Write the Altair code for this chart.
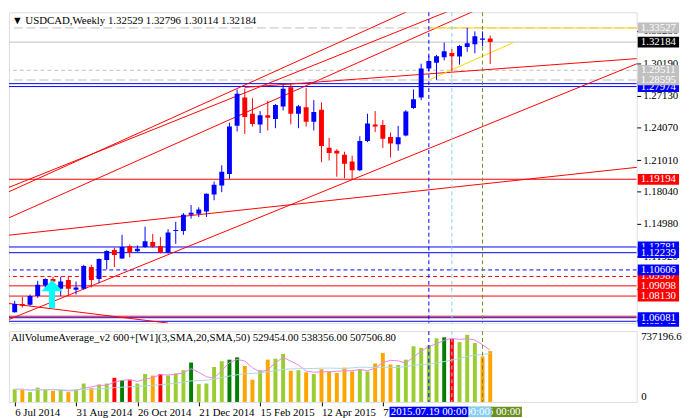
import altair as alt
import pandas as pd

# ---------------- data ----------------
week_start = "2014-07-06"
n_weeks = 63
opens = [1.0659, 1.0737, 1.0730, 1.0813, 1.0914, 1.0975, 1.0883, 1.0966, 1.0874, 1.0883,
         1.1088, 1.0975, 1.1155, 1.1250, 1.1170, 1.1287, 1.1237, 1.1278, 1.1324, 1.1287,
         1.1226, 1.1430, 1.1430, 1.1583, 1.1592, 1.1614, 1.1776, 1.1861, 1.1969, 1.2427,
         1.2693, 1.2540, 1.2439, 1.2525, 1.2489, 1.2608, 1.2792, 1.2540, 1.2602, 1.2464,
         1.2577, 1.2219, 1.2189, 1.2152, 1.2088, 1.2005, 1.2281, 1.2439, 1.2434, 1.2320,
         1.2250, 1.2333, 1.2595, 1.2693, 1.2969, 1.3024, 1.3076, 1.3115, 1.3081, 1.3173,
         1.3198, 1.3240, 1.32529]
highs = [1.0767, 1.0804, 1.0828, 1.0957, 1.0981, 1.0996, 1.0996, 1.1005, 1.0950, 1.1109,
         1.1109, 1.1170, 1.1247, 1.1271, 1.1393, 1.1302, 1.1293, 1.1470, 1.1402, 1.1372,
         1.1446, 1.1516, 1.1599, 1.1675, 1.1654, 1.1785, 1.1898, 1.2051, 1.2455, 1.2770,
         1.2779, 1.2687, 1.2565, 1.2663, 1.2632, 1.2815, 1.2822, 1.2623, 1.2785, 1.2669,
         1.2648, 1.2311, 1.2204, 1.2180, 1.2143, 1.2326, 1.2540, 1.2565, 1.2480, 1.2363,
         1.2425, 1.2574, 1.2770, 1.3014, 1.3091, 1.3097, 1.3214, 1.3152, 1.3192, 1.33527,
         1.3320, 1.3320, 1.32796]
lows = [1.0657, 1.0705, 1.0721, 1.0797, 1.0889, 1.0859, 1.0813, 1.0813, 1.0828, 1.0874,
        1.0895, 1.0935, 1.1067, 1.1088, 1.1165, 1.1180, 1.1232, 1.1271, 1.1269, 1.1216,
        1.1216, 1.1308, 1.1393, 1.1547, 1.1562, 1.1562, 1.1721, 1.1797, 1.1923, 1.2372,
        1.2348, 1.2418, 1.2357, 1.2381, 1.2403, 1.2571, 1.2439, 1.2403, 1.2418, 1.2381,
        1.2081, 1.2097, 1.1944, 1.1929, 1.1914, 1.1996, 1.2271, 1.2366, 1.2216, 1.2127,
        1.2189, 1.2326, 1.2586, 1.2669, 1.2941, 1.2861, 1.3045, 1.2941, 1.3005, 1.3127,
        1.3113, 1.3180, 1.30114]
closes = [1.0737, 1.0721, 1.0813, 1.0920, 1.0975, 1.0950, 1.0950, 1.0883, 1.0895, 1.1097,
          1.0966, 1.1164, 1.1241, 1.1201, 1.1278, 1.1226, 1.1262, 1.1333, 1.1281, 1.1226,
          1.1415, 1.1439, 1.1583, 1.1602, 1.1632, 1.1782, 1.1868, 1.1990, 1.2418, 1.2730,
          1.2510, 1.2443, 1.2525, 1.2503, 1.2623, 1.2776, 1.2540, 1.2611, 1.2464, 1.2556,
          1.2235, 1.2168, 1.2164, 1.2067, 1.2005, 1.2281, 1.2448, 1.2418, 1.2302, 1.2259,
          1.2317, 1.2562, 1.2678, 1.2969, 1.3039, 1.3085, 1.3131, 1.3085, 1.3182, 1.3207,
          1.3274, 1.3253, 1.32184]
volumes = [132100, 132100, 102300, 149000, 126100, 116200, 126100, 102300, 132100, 191600,
           146000, 181700, 191600, 251200, 225400, 225400, 191600, 290900, 275100, 290900,
           275100, 297900, 330700, 410100, 185700, 191600, 364400, 424000, 439900, 463700,
           374400, 231400, 330700, 439900, 449800, 499500, 324700, 330700, 307800, 290900,
           340600, 314800, 300900, 357500, 317800, 340600, 317800, 400200, 509400, 390200,
           384300, 439900, 578900, 563000, 588800, 662300, 672300, 655400, 622600, 698100,
           612700, 473700, 529454]
vol_colors = ["yellowgreen", "orange", "yellowgreen", "yellowgreen", "yellowgreen", "orange", "yellowgreen", "orange", "yellowgreen", "yellowgreen",
              "orange", "yellowgreen", "yellowgreen", "red", "green", "red", "yellowgreen", "yellowgreen", "orange", "red",
              "yellowgreen", "yellowgreen", "yellowgreen", "green", "yellowgreen", "yellowgreen", "yellowgreen", "yellowgreen", "green", "green",
              "orange", "orange", "yellowgreen", "orange", "yellowgreen", "yellowgreen", "orange", "yellowgreen", "orange", "yellowgreen",
              "orange", "orange", "orange", "orange", "orange", "yellowgreen", "yellowgreen", "orange", "orange", "orange",
              "yellowgreen", "yellowgreen", "yellowgreen", "yellowgreen", "yellowgreen", "yellowgreen", "green", "red", "yellowgreen", "yellowgreen",
              "yellowgreen", "orange", "orange"]

# horizontal levels
hl_price = [1.33527, 1.32184, 1.29511, 1.28595, 1.28250, 1.27974, 1.19194, 1.12781, 1.12239,
            1.10606, 1.09987, 1.09098, 1.08130, 1.06220, 1.06081, 1.05742]
hl_color = ["#C0C0C0", "#C0C0C0", "#C0C0C0", "#C0C0C0", "#0000FF", "#0000FF", "#FF0000", "#0000FF", "#0000FF",
            "#0000FF", "#FF0000", "#FF0000", "#FF0000", "#FF0000", "#0000FF", "#0000FF"]
hl_style = ["long", "solid", "short", "long", "solid", "solid", "solid", "solid", "solid",
            "short", "short", "solid", "solid", "solid", "solid", "solid"]

# trend lines (start date, start price, end date, end price, colour)
tl_d1 = ["2014-06-29", "2014-06-29", "2015-02-01", "2014-06-29", "2014-06-29", "2014-06-29", "2014-06-29", "2015-07-19", "2015-07-19"]
tl_p1 = [1.1388, 1.0584, 1.2790, 1.1546, 1.1793, 1.1835, 1.0745, 1.28595, 1.33527]
tl_d2 = ["2016-02-07", "2016-02-07", "2016-02-07", "2015-08-30", "2015-07-05", "2015-08-16", "2014-11-23", "2015-10-04", "2016-02-07"]
tl_p2 = [1.2047, 1.3069, 1.3072, 1.3516, 1.3535, 1.3553, 1.0557, 1.3213, 1.33527]
tl_color = ["#FF0000"] * 7 + ["#FFD700", "#FFD700"]

# vertical markers (drawn olive first, blue last)
vl_dates = ["2015-09-06", "2015-08-09", "2015-07-19"]
vl_colors = ["#6B8E23", "#87CEFA", "#0000FF"]
vl_labels = ["2015.09.06 00:00", "2015.08.09 00:00", "2015.07.19 00:00"]

# price label boxes (drawing order)
box_price = [1.33527, 1.32184, 1.29511, 1.27974, 1.28595, 1.19194, 1.12781, 1.12239,
             1.09987, 1.10606, 1.09098, 1.08130, 1.05742, 1.06081]
box_fill = ["#C0C0C0", "#000000", "#C0C0C0", "#0000FF", "#C0C0C0", "#FF0000", "#0000FF", "#0000FF",
            "#FF0000", "#0000FF", "#FF0000", "#FF0000", "#0000FF", "#0000FF"]

price_ticks = [1.33250, 1.30190, 1.27130, 1.24070, 1.21010, 1.18040, 1.14980, 1.11920, 1.08860, 1.05800]
date_ticks = [(2014, 7, 6), (2014, 8, 31), (2014, 10, 26), (2014, 12, 21), (2015, 2, 15), (2015, 4, 12), (2015, 6, 7)]

arrow_date = ["2014-08-10"]
arrow_price = [1.0833]

header_text = "\u25BC USDCAD,Weekly  1.32529 1.32796 1.30114 1.32184"
vol_text = "AllVolumeAverage_v2 600+[W1](3,SMA,20,SMA,50) 529454.00 538356.00 507506.80"
vol_max = 737196.6

# ---------------- build ----------------
def z(d):
    return d + "T00:00:00Z"

dates = [d.strftime("%Y-%m-%dT00:00:00Z") for d in pd.date_range(week_start, periods=n_weeks, freq="7D")]
candles = pd.DataFrame({"date": dates, "o": opens, "h": highs, "l": lows, "c": closes})
vol = pd.DataFrame({"date": dates, "v": volumes, "col": vol_colors})
hl_df = pd.DataFrame({"price": hl_price, "color": hl_color, "style": hl_style})
tl_df = pd.DataFrame({"d1": [z(d) for d in tl_d1], "p1": tl_p1, "d2": [z(d) for d in tl_d2], "p2": tl_p2, "color": tl_color})
vl_df = pd.DataFrame({"date": [z(d) for d in vl_dates], "color": vl_colors, "label": vl_labels})
arrow_df = pd.DataFrame({"date": [z(d) for d in arrow_date], "price": arrow_price})

FONT = "Liberation Sans Narrow"
W, H_MAIN, H_VOL = 638, 316, 72

xscale = alt.Scale(type="utc", domain=[alt.DateTime(year=2014, month=7, date=5, hours=7, utc=True),
                                       alt.DateTime(year=2016, month=1, date=20, hours=6, utc=True)])
yscale = alt.Scale(domain=[1.05558, 1.35006], nice=False, zero=False)

price_axis = alt.Axis(orient="right", values=price_ticks, format=".5f", tickSize=4, tickColor="black",
                      labelPadding=2, labelFont=FONT, labelFontSize=11, labelColor="black",
                      domain=False, grid=False, title=None, labelOverlap=False)


def PY(field):
    return alt.Y(field, scale=yscale, axis=price_axis)


X = alt.X("date:T", scale=xscale, axis=None)


def hrule(style, dash=None):
    kw = {"strokeWidth": 1, "clip": True}
    if dash:
        kw["strokeDash"] = dash
    return alt.Chart(hl_df).transform_filter(f"datum.style == '{style}'").mark_rule(**kw).encode(
        y=PY("price:Q"), color=alt.Color("color:N", scale=None))


vrules = alt.Chart(vl_df).mark_rule(strokeDash=[4, 3], strokeWidth=1).encode(
    x=X, color=alt.Color("color:N", scale=None))

trend = alt.Chart(tl_df).mark_rule(strokeWidth=1, clip=True).encode(
    x=alt.X("d1:T", scale=xscale, axis=None), x2="d2:T",
    y=PY("p1:Q"), y2="p2:Q",
    color=alt.Color("color:N", scale=None))

cbase = alt.Chart(candles).transform_calculate(col="datum.c >= datum.o ? '#0000FF' : '#FF0000'")
wicks = cbase.mark_rule(strokeWidth=1, clip=True).encode(
    x=X, y=PY("l:Q"), y2="h:Q", color=alt.Color("col:N", scale=None))
bodies = cbase.mark_bar(size=5, clip=True).encode(
    x=X, y=PY("o:Q"), y2="c:Q", color=alt.Color("col:N", scale=None))

arrow_path = "M0,-1 L0.76,-0.2 L0.21,-0.2 L0.21,1 L-0.21,1 L-0.21,-0.2 L-0.76,-0.2 Z"
arrow = alt.Chart(arrow_df).mark_point(shape=arrow_path, size=815, filled=True, opacity=1,
                                       color="#00FFFF", xOffset=-1, strokeWidth=0).encode(
    x=X, y=PY("price:Q"))

box_path = "M-1,-0.26 L1,-0.26 L1,0.26 L-1,0.26 Z"
box_layers = []
for p, f in zip(box_price, box_fill):
    bd = pd.DataFrame({"price": [p], "fill": [f]})
    box_layers.append(alt.Chart(bd).mark_point(shape=box_path, size=1764, filled=True, opacity=1,
                                               strokeWidth=0, color=f).encode(
        x=alt.value(660), y=PY("price:Q")))
    box_layers.append(alt.Chart(bd).mark_text(font=FONT, fontSize=11, color="white", align="center",
                                              baseline="middle").encode(
        x=alt.value(660), y=PY("price:Q"), text=alt.Text("price:Q", format=".5f")))

header = alt.Chart(pd.DataFrame({"t": [header_text]})).mark_text(
    font=FONT, fontSize=11, color="black", align="left", baseline="middle").encode(
    x=alt.value(3), y=alt.value(9), text="t:N")

main = alt.layer(
    hrule("solid"), hrule("short", [4, 3]), hrule("long", [9, 4]),
    trend, vrules, wicks, bodies, arrow, header, *box_layers
).properties(width=W, height=H_MAIN)

x_axis = alt.Axis(values=[alt.DateTime(year=y, month=m, date=d, utc=True) for (y, m, d) in date_ticks],
                  labelExpr="utcFormat(datum.value, '%-d %b %Y')", labelAlign="left", tickSize=4, tickColor="black",
                  labelPadding=1, labelFont=FONT, labelFontSize=11, labelColor="black",
                  domain=False, grid=False, title=None, labelOverlap=False, labelFlush=False)
vol_axis = alt.Axis(orient="right", values=[0, vol_max], labelExpr="datum.value == 0 ? '0' : '737196.6'",
                    ticks=False, labelFlush=True, labelPadding=4, labelFont=FONT, labelFontSize=11,
                    labelColor="black", domain=False, grid=False, title=None)
vscale = alt.Scale(domain=[0, vol_max], nice=False, zero=True)
XV = alt.X("date:T", scale=xscale, axis=x_axis)


def VY(field):
    return alt.Y(field, scale=vscale, axis=vol_axis)


vbars = alt.Chart(vol).mark_bar(size=4).encode(
    x=XV, y=VY("v:Q"), color=alt.Color("col:N", scale=None))
sma3 = alt.Chart(vol).transform_window(m="mean(v)", frame=[-2, 0], sort=[alt.SortField("date")]).mark_line(
    color="#EE82EE", strokeWidth=1).encode(x=XV, y=VY("m:Q"))
sma20 = alt.Chart(vol).transform_window(m="mean(v)", frame=[-19, 0], sort=[alt.SortField("date")]).mark_line(
    color="#ADD8E6", strokeWidth=1).encode(x=XV, y=VY("m:Q"))
vrules_v = alt.Chart(vl_df).mark_rule(strokeDash=[4, 3], strokeWidth=1).encode(
    x=XV, color=alt.Color("color:N", scale=None))

date_layers = []
for d, c, t in zip(vl_dates, vl_colors, vl_labels):
    dd = pd.DataFrame({"date": [z(d)], "label": [t]})
    date_layers.append(alt.Chart(dd).mark_point(shape="M-1,-0.13 L1,-0.13 L1,0.13 L-1,0.13 Z", size=6400,
                                                filled=True, opacity=1, strokeWidth=0, color=c).encode(
        x=XV, y=alt.value(H_VOL + 10)))
    date_layers.append(alt.Chart(dd).mark_text(font=FONT, fontSize=11, color="white", align="center",
                                               baseline="middle").encode(
        x=XV, y=alt.value(H_VOL + 10), text="label:N"))

vol_header = alt.Chart(pd.DataFrame({"t": [vol_text]})).mark_text(
    font=FONT, fontSize=11, color="black", align="left", baseline="middle").encode(
    x=alt.value(2), y=alt.value(7), text="t:N")

volume = alt.layer(vbars, sma3, sma20, vrules_v, vol_header, *date_layers).properties(width=W, height=H_VOL)

chart = alt.vconcat(main, volume, spacing=3).properties(
    padding={"left": 0, "top": 0, "right": 0, "bottom": 0}
).configure_view(stroke="black", strokeWidth=1).configure(background="white")

chart.save("out.html", embed_options={"renderer": "svg", "actions": False})
